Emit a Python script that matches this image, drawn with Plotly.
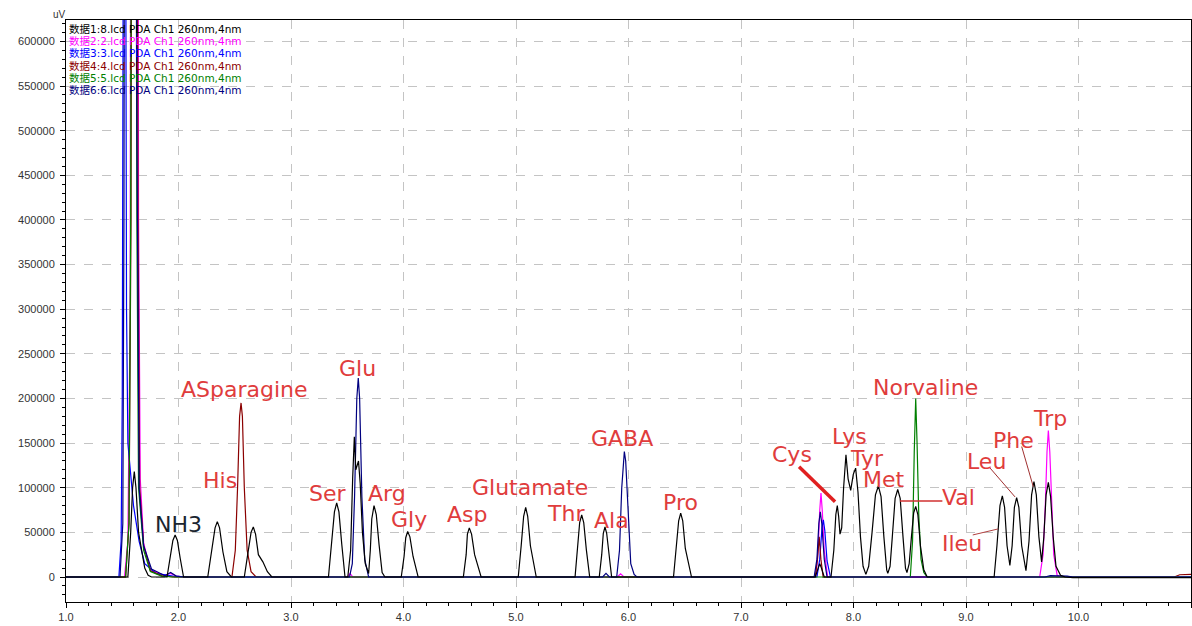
import plotly.graph_objects as go

# chromatogram points (retention time in min, signal in uV)
BLACK = [(1.00, 0), (1.55, 0), (1.575, 50000), (1.592, 100000), (1.607, 118000), (1.622, 100000), (1.645, 50000),
         (1.673, 30000), (1.70, 10000), (1.73, 2000), (1.76, 0),
         (1.898, 0), (1.925, 21000), (1.95, 41000), (1.97, 47000), (1.99, 41000), (2.015, 21000), (2.045, 0),
         (2.26, 0), (2.295, 28000), (2.325, 55000), (2.345, 62000), (2.365, 55000), (2.395, 28000), (2.43, 6000), (2.47, 0),
         (2.585, 0), (2.615, 25000), (2.645, 50000), (2.665, 56000), (2.685, 48000), (2.71, 25000), (2.75, 17000),
         (2.79, 6000), (2.83, 0),
         (3.333, 0), (3.36, 37000), (3.386, 73000), (3.406, 83000), (3.426, 73000), (3.451, 37000), (3.48, 0),
         (3.505, 0), (3.53, 30000), (3.548, 110000), (3.563, 157000), (3.576, 120000), (3.59, 128000), (3.60, 130000),
         (3.615, 105000), (3.635, 50000), (3.66, 15000), (3.685, 4000),
         (3.69, 4000), (3.705, 30000), (3.718, 65000), (3.738, 80000), (3.758, 70000), (3.783, 36000), (3.81, 5000), (3.835, 0),
         (3.98, 0), (4.005, 23000), (4.02, 44000), (4.037, 51000), (4.057, 45000), (4.085, 23000), (4.13, 0),
         (4.532, 0), (4.557, 25000), (4.568, 48000), (4.585, 55000), (4.605, 48000), (4.632, 25000), (4.69, 0),
         (5.02, 0), (5.046, 35000), (5.068, 68000), (5.086, 78000), (5.104, 68000), (5.128, 35000), (5.18, 0),
         (5.525, 0), (5.548, 31000), (5.566, 61000), (5.584, 69500), (5.602, 61000), (5.625, 31000), (5.655, 0),
         (5.74, 0), (5.762, 25000), (5.776, 49000), (5.791, 56000), (5.806, 49000), (5.825, 25000), (5.85, 0),
         (6.40, 0), (6.425, 32000), (6.446, 63000), (6.464, 71500), (6.482, 63000), (6.505, 32000), (6.56, 0),
         (7.66, 0), (7.685, 10000), (7.70, 15000), (7.715, 10000), (7.74, 0),
         (7.80, 0), (7.825, 30000), (7.843, 70000), (7.856, 80000), (7.868, 68000), (7.88, 48000), (7.895, 55000),
         (7.912, 100000), (7.933, 137000), (7.952, 110000), (7.975, 97000), (7.998, 115000), (8.019, 122000),
         (8.04, 95000), (8.062, 45000), (8.085, 12000), (8.11, 3000),
         (8.135, 12000), (8.165, 50000), (8.195, 92000), (8.221, 102000), (8.245, 90000), (8.27, 45000), (8.295, 8000),
         (8.305, 4000),
         (8.325, 12000), (8.345, 45000), (8.37, 88000), (8.393, 98000), (8.415, 88000), (8.44, 45000), (8.462, 10000),
         (8.475, 5000),
         (8.495, 15000), (8.515, 45000), (8.535, 72000), (8.553, 79000), (8.572, 70000), (8.595, 35000), (8.625, 8000),
         (8.655, 0),
         (9.25, 0), (9.275, 35000), (9.302, 80000), (9.323, 91000), (9.343, 78000), (9.365, 35000), (9.39, 13000),
         (9.41, 35000), (9.43, 78000), (9.45, 89000), (9.47, 78000), (9.495, 35000), (9.533, 7000),
         (9.56, 40000), (9.583, 92000), (9.604, 107000), (9.625, 92000), (9.648, 45000), (9.672, 17000),
         (9.692, 45000), (9.712, 92000), (9.732, 106000), (9.752, 90000), (9.775, 45000), (9.80, 12000),
         (9.84, 2000), (9.88, 0), (9.95, -700), (11.0, -700)]

MAGENTA = [(1.0, 0), (1.52, 0), (1.55, 40000), (1.57, 300000), (1.58, 1300000), (1.635, 1300000), (1.645, 400000),
           (1.66, 110000), (1.69, 38000), (1.75, 8000), (1.87, 2000), (1.93, 4000), (1.98, 1000), (2.05, 0),
           (3.50, 0), (3.525, 4000), (3.55, 0), (5.90, 0), (5.93, 3500), (5.96, 0),
           (7.665, 0), (7.685, 30000), (7.70, 75000), (7.711, 94000), (7.722, 75000), (7.74, 30000), (7.77, 0),
           (9.655, 0), (9.685, 25000), (9.705, 80000), (9.72, 140000), (9.732, 164000), (9.745, 140000),
           (9.76, 80000), (9.78, 25000), (9.81, 2000), (9.85, 0), (11.0, 0)]

BLUE = [(1.0, 0), (1.47, 0), (1.49, 40000), (1.50, 200000), (1.512, 900000), (1.52, 1400000), (1.528, 900000),
        (1.538, 300000), (1.55, 150000), (1.60, 80000), (1.65, 40000), (1.70, 15000), (1.80, 4000), (1.95, 1000), (2.1, 0),
        (7.675, 0), (7.70, 20000), (7.72, 55000), (7.732, 64000), (7.745, 52000), (7.765, 18000), (7.795, 0), (11.0, 0)]

BROWN = [(1.0, 0), (1.53, 0), (1.56, 60000), (1.578, 400000), (1.59, 1300000), (1.625, 1300000), (1.64, 400000),
         (1.655, 100000), (1.69, 35000), (1.75, 7000), (1.85, 1500), (1.95, 0),
         (2.475, 0), (2.505, 30000), (2.525, 100000), (2.543, 180000), (2.556, 195000), (2.568, 180000),
         (2.585, 100000), (2.61, 30000), (2.645, 6000), (2.69, 0),
         (7.66, 0), (7.68, 20000), (7.695, 45000), (7.71, 20000), (7.73, 0), (10.85, 0), (10.9, 2500), (11.0, 3000)]

GREEN = [(1.0, 0), (1.53, 0), (1.56, 60000), (1.575, 400000), (1.585, 1300000), (1.615, 1300000), (1.63, 400000),
         (1.645, 100000), (1.69, 30000), (1.75, 6000), (1.85, 1000), (1.95, 0),
         (8.505, 0), (8.525, 40000), (8.54, 140000), (8.553, 200000), (8.565, 150000), (8.58, 70000), (8.60, 20000),
         (8.625, 5000), (8.655, 0), (11.0, 0)]

NAVY = [(1.0, 0), (1.48, 0), (1.505, 60000), (1.515, 400000), (1.525, 1300000), (1.615, 1300000), (1.63, 500000),
        (1.65, 100000), (1.69, 35000), (1.76, 9000), (1.88, 1500), (1.93, 5000), (1.98, 1000), (2.05, 0),
        (3.52, 0), (3.545, 15000), (3.565, 90000), (3.585, 200000), (3.598, 223000), (3.61, 200000), (3.63, 90000),
        (3.655, 20000), (3.69, 0),
        (5.77, 0), (5.80, 4000), (5.83, 0),
        (5.895, 0), (5.92, 30000), (5.94, 100000), (5.955, 135000), (5.963, 140500), (5.975, 130000), (5.995, 70000),
        (6.02, 15000), (6.05, 3000), (6.075, 0),
        (7.65, 0), (7.675, 20000), (7.692, 60000), (7.705, 73000), (7.718, 60000), (7.74, 20000), (7.765, 0),
        (9.70, 0), (9.75, 1500), (9.90, 1000), (9.95, 0), (11.0, 0)]

legend_text = ["数据1:8.lcd PDA Ch1 260nm,4nm", "数据2:2.lcd PDA Ch1 260nm,4nm", "数据3:3.lcd PDA Ch1 260nm,4nm",
               "数据4:4.lcd PDA Ch1 260nm,4nm", "数据5:5.lcd PDA Ch1 260nm,4nm", "数据6:6.lcd PDA Ch1 260nm,4nm"]
legend_color = ["#000000", "#ff00ff", "#0000ff", "#8b0000", "#008000", "#000080"]

# peak names and where the labels sit (time, uV)
peak_names = ["His", "ASparagine", "Ser", "Glu", "Arg", "Gly", "Asp", "Glutamate", "Thr", "Ala", "GABA", "Pro",
              "Cys", "Lys", "Tyr", "Met", "Norvaline", "Val", "Ileu", "Leu", "Phe", "Trp"]
label_t = [2.37, 2.59, 3.33, 3.59, 3.85, 4.05, 4.56, 5.12, 5.44, 5.85, 5.94, 6.46,
           7.45, 7.96, 8.12, 8.27, 8.64, 8.93, 8.96, 9.18, 9.42, 9.75]
label_uv = [108000, 210000, 94000, 234000, 93000, 64000, 70000, 100000, 71000, 63000, 155000, 84000,
            137000, 157000, 133000, 109000, 212000, 89000, 37000, 129000, 153000, 178000]

series = [(MAGENTA, "#ff00ff"), (BLUE, "#0000ff"), (BROWN, "#8b0000"), (GREEN, "#008000"),
          (NAVY, "#000080"), (BLACK, "#000000")]

fig = go.Figure()
for pts, col in series:
    fig.add_trace(go.Scatter(x=[p[0] for p in pts], y=[p[1] for p in pts], mode="lines",
                             line=dict(color=col, width=1.2), showlegend=False, hoverinfo="x+y"))

red = "#e03c3c"
ann = []
for name, t, v in zip(peak_names, label_t, label_uv):
    ann.append(dict(x=t, y=v, text=name, showarrow=False, font=dict(family="DejaVu Sans", size=22, color=red)))
ann.append(dict(x=2.0, y=59000, text="NH3", showarrow=False, font=dict(family="DejaVu Sans", size=22, color="#1a2530")))
for i, (txt, col) in enumerate(zip(legend_text, legend_color)):
    ann.append(dict(xref="paper", yref="paper", x=0, y=1, xanchor="left", yanchor="top", xshift=1, yshift=-1 - 12.2 * i,
                    text=txt, showarrow=False,
                    font=dict(family="DejaVu Sans, Noto Sans CJK SC", size=10.5, color=col)))
ann.append(dict(xref="paper", yref="paper", x=0, y=1, xanchor="right", yanchor="bottom", xshift=2, yshift=-2,
                text="uV", showarrow=False, font=dict(family="Liberation Sans", size=10, color="#333333")))

shapes = [
    dict(type="line", x0=7.516, y0=123600, x1=7.836, y1=84400, line=dict(color="#e02020", width=3.5)),
    dict(type="line", x0=8.413, y0=85200, x1=8.79, y1=85200, line=dict(color="#d03030", width=1.5)),
    dict(type="line", x0=9.213, y0=122200, x1=9.436, y1=89700, line=dict(color="#a03030", width=1)),
    dict(type="line", x0=9.495, y0=146100, x1=9.598, y1=101200, line=dict(color="#a03030", width=1)),
    dict(type="line", x0=9.06, y0=47100, x1=9.284, y1=53800, line=dict(color="#b04040", width=1)),
]

fig.update_layout(
    width=1192, height=626,
    margin=dict(l=66, r=1, t=20, b=24),
    plot_bgcolor="white", paper_bgcolor="white",
    annotations=ann, shapes=shapes,
    font=dict(family="Liberation Sans", size=11, color="#333333"),
)
fig.update_xaxes(range=[1.0, 11.0], tick0=1, dtick=1, tickformat=".1f", automargin=False,
                 showline=True, linecolor="black", linewidth=1, mirror=True,
                 ticks="outside", ticklen=5, tickcolor="black",
                 showgrid=True, gridcolor="#c4c4c4", griddash="dash", gridwidth=1, zeroline=False,
                 minor=dict(dtick=0.2, ticks="outside", ticklen=3, tickcolor="black", showgrid=False),
                 tickfont=dict(size=11, color="#333333"))
fig.update_yaxes(range=[-28000, 624000], tick0=0, dtick=50000, tickformat="d", automargin=False,
                 showline=True, linecolor="black", linewidth=1, mirror=True,
                 ticks="outside", ticklen=5, tickcolor="black", ticklabelstandoff=3,
                 showgrid=True, gridcolor="#c4c4c4", griddash="dash", gridwidth=1, zeroline=False,
                 minor=dict(dtick=10000, ticks="outside", ticklen=3, tickcolor="black", showgrid=False),
                 tickfont=dict(size=11, color="#333333"))

# drop the browser's default page margin so the figure sits at the window's corner
fig.write_html("out.html", config={"displayModeBar": False},
               post_script="document.body.style.margin='0';")
